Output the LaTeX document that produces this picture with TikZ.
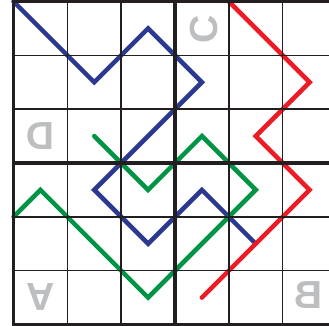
\documentclass[tikz,border=0pt]{standalone}
\usepackage{fontspec}
\setsansfont{Liberation Sans}
\definecolor{pathblue}{HTML}{2B3990}
\definecolor{pathgreen}{HTML}{009444}
\definecolor{pathred}{HTML}{ED1C24}
\definecolor{lettergray}{HTML}{BCBEC0}
\definecolor{gridline}{HTML}{231F20}
\begin{document}
\begin{tikzpicture}[x=1cm, y=1cm,
  route/.style={line width=2.4pt, line cap=round},
  cellline/.style={gridline, line width=0.85pt},
  boxline/.style={gridline, line width=1.7pt},
  letter/.style={lettergray, inner sep=0pt,
    font=\fontsize{20.7}{21}\selectfont\sffamily\bfseries}]
  \useasboundingbox (-0.251,-0.028) rectangle (5.861,6.028);
  % gespiegelte Buchstaben
  \node[letter, xscale=-1] (letD) at (0.5,3.5)   {D};
  \node[letter, rotate=90] (letC) at (3.54,5.48) {C};
  \node[letter, yscale=-1] (letA) at (0.5,0.52)  {A};
  \node[letter, xscale=-1] (letB) at (5.48,0.54) {B};
  % Wege
  \draw[route, pathblue] (0,6) -- (1.5,4.5) -- (2.5,5.5) -- (3.5,4.5)
    -- (1.5,2.5) -- (2.5,1.5) -- (3.5,2.5) -- (4.5,1.5);
  \draw[route, pathgreen] (1.5,3.5) -- (2.5,2.5) -- (3.5,3.5) -- (4.5,2.5)
    -- (2.5,0.5) -- (0.5,2.5) -- (0,2);
  \draw[route, pathred] (4,6) -- (5.5,4.5) -- (4.5,3.5) -- (5.5,2.5)
    -- (3.5,0.5);
  % Gitter
  \foreach \i in {1,2,4,5} {
    \draw[cellline] (\i,0) -- (\i,6);
    \draw[cellline] (0,\i) -- (6,\i);
  }
  \draw[boxline] (3,0) -- (3,6) (0,3) -- (6,3);
  \draw[boxline] (0,0) rectangle (6,6);
\end{tikzpicture}
\end{document}
